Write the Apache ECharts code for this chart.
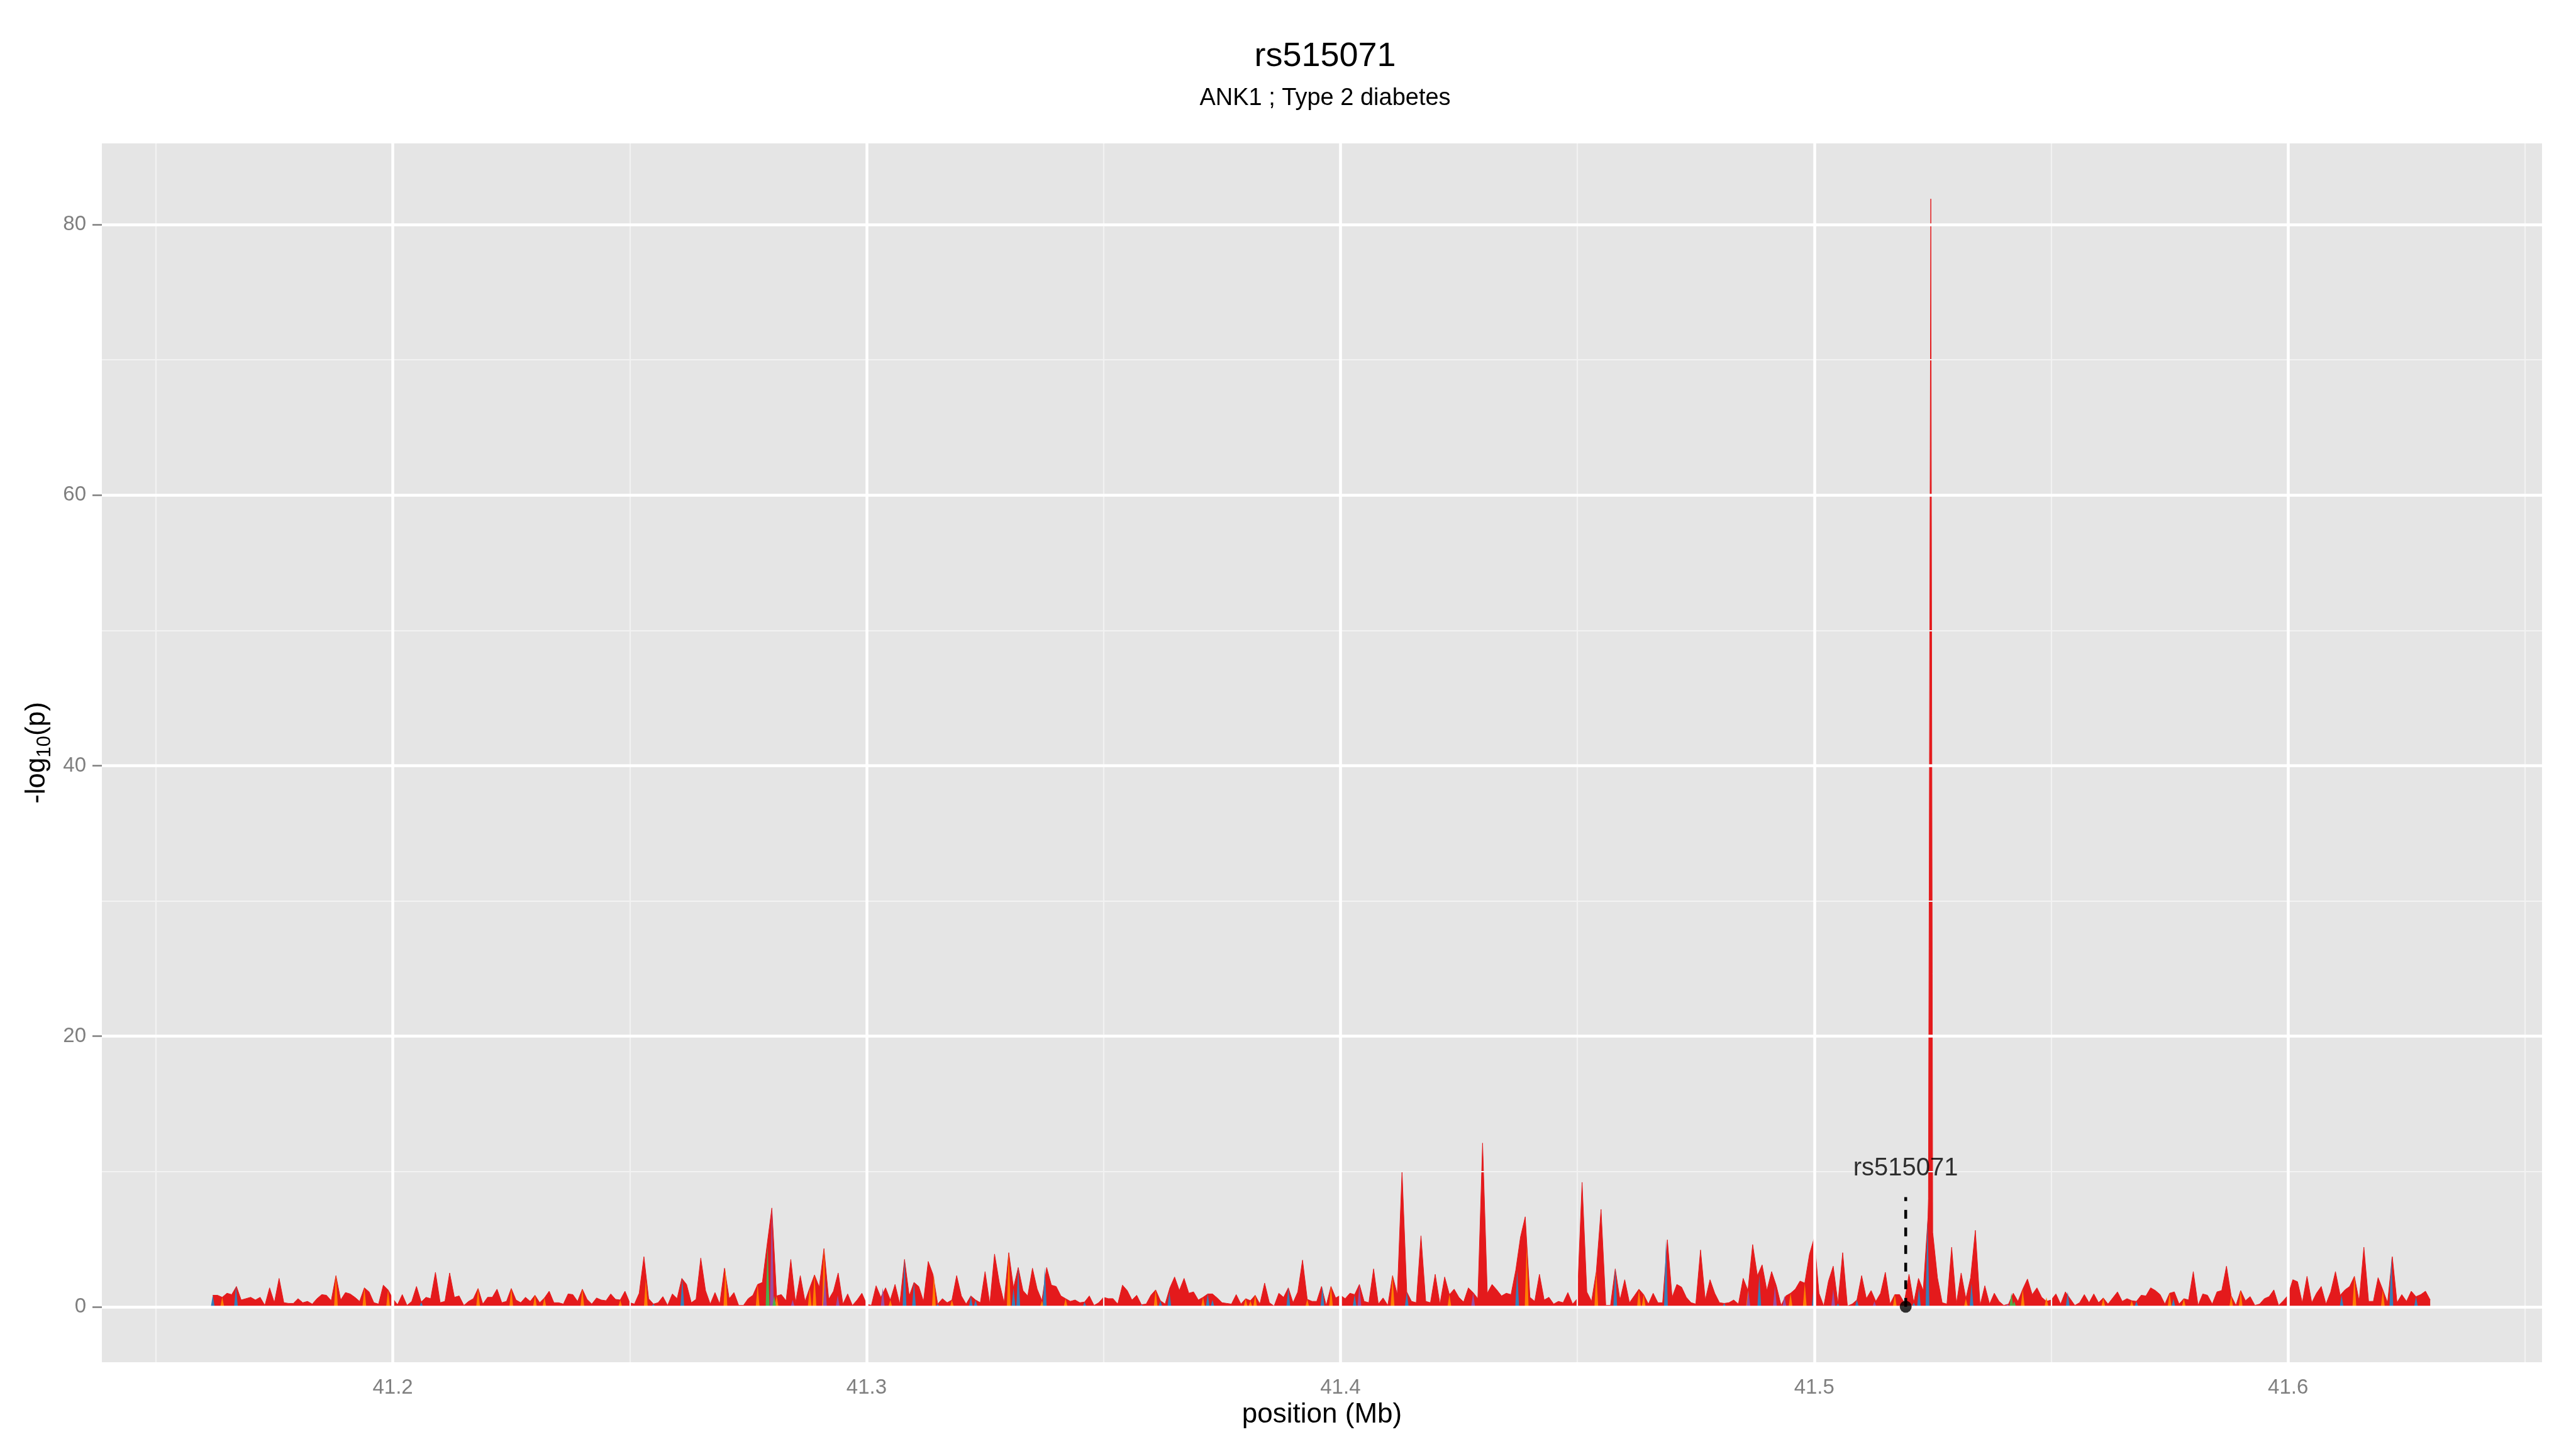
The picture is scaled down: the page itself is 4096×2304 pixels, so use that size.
<!DOCTYPE html>
<html><head><meta charset="utf-8">
<script src="https://cdn.jsdelivr.net/npm/echarts@6/dist/echarts.min.js"></script>
<style>html,body{margin:0;padding:0;background:#fff}#c{width:4096px;height:2304px}</style>
</head><body><div id="c"></div>
<script>
// ---------------- data ----------------
const titleText = 'rs515071';
const subtitleText = 'ANK1 ; Type 2 diabetes';
const xAxisTitle = 'position (Mb)';
const xTicks = [41.2, 41.3, 41.4, 41.5, 41.6];
const xMinorTicks = [41.15, 41.25, 41.35, 41.45, 41.55, 41.65];
const yTicks = [0, 20, 40, 60, 80];
const yMinorTicks = [10, 30, 50, 70];
const xRange = [41.1386, 41.6536];
const yRange = [-4.1, 86.0];

// -log10(p) sampled every 0.001 Mb starting at 41.162 Mb
const posStart = 41.162;
const posStep = 0.001;
const logp = [
  0.85,0.85,0.7,1.0,0.9,1.5,0.5,0.6,0.7,0.5,
  0.7,0.1,1.4,0.3,2.1,0.3,0.25,0.25,0.6,0.3,
  0.4,0.2,0.6,0.9,0.85,0.45,2.3,0.5,1.05,0.95,
  0.7,0.4,1.4,1.1,0.3,0.2,1.6,1.25,0.6,0.15,
  0.9,0.1,0.4,1.5,0.35,0.7,0.6,2.55,0.3,0.4,
  2.5,0.7,0.8,0.1,0.4,0.6,1.35,0.2,0.7,0.7,
  1.3,0.3,0.4,1.35,0.5,0.3,0.7,0.4,0.85,0.3,
  0.65,1.15,0.3,0.3,0.2,0.95,0.9,0.4,1.3,0.55,
  0.2,0.65,0.5,0.45,0.95,0.55,0.5,1.15,0.3,0.2,
  1.0,3.7,0.6,0.2,0.3,0.75,0.1,0.95,0.6,2.1,
  1.65,0.3,0.55,3.6,1.2,0.2,1.05,0.2,2.85,0.6,
  1.05,0.1,0.1,0.6,0.85,1.65,1.8,4.6,7.3,0.8,
  0.9,0.45,3.5,0.3,2.3,0.4,1.4,2.35,1.45,4.3,
  0.55,1.15,2.5,0.2,0.95,0.1,0.5,1.0,0.2,0.1,
  1.55,0.7,1.4,0.5,1.65,0.2,3.5,0.8,1.8,1.5,
  0.4,3.35,2.4,0.2,0.6,0.3,0.5,2.3,0.8,0.2,
  0.8,0.5,0.3,2.6,0.2,3.9,1.8,0.3,4.0,1.4,
  2.9,1.2,0.8,2.85,1.3,0.45,2.9,1.6,1.5,0.8,
  0.6,0.4,0.5,0.3,0.35,0.8,0.1,0.3,0.7,0.6,
  0.6,0.2,1.6,1.2,0.5,0.85,0.15,0.2,0.85,1.25,
  0.45,0.2,1.4,2.2,1.2,2.1,1.0,1.1,0.5,0.7,
  0.95,0.95,0.65,0.3,0.25,0.2,0.9,0.2,0.6,0.45,
  0.85,0.2,1.75,0.3,0.05,1.0,0.7,1.4,0.3,1.1,
  3.45,0.55,0.4,0.4,1.5,0.1,1.5,0.65,0.85,0.6,
  1.0,0.9,1.65,0.4,0.3,2.8,0.2,0.65,0.1,2.3,
  0.9,10.0,1.1,0.4,0.3,5.25,0.4,0.3,2.4,0.2,
  2.2,0.9,1.3,0.7,0.35,1.4,1.05,0.6,12.1,1.0,
  1.65,1.25,0.8,1.0,0.9,2.7,5.15,6.65,0.7,0.4,
  2.4,0.5,0.7,0.2,0.4,0.3,1.05,0.2,0.6,9.2,
  1.1,0.4,2.6,7.2,0.1,0.1,2.8,0.5,2.0,0.3,
  0.8,1.3,0.9,0.2,1.0,0.3,0.3,4.95,0.7,1.65,
  1.45,0.7,0.3,0.2,4.2,0.5,2.0,1.0,0.3,0.25,
  0.3,0.5,0.2,2.1,1.2,4.6,2.3,3.1,1.2,2.6,
  1.55,0.1,0.8,1.0,1.3,1.9,1.75,3.9,5.1,1.0,
  0.05,1.9,3.0,0.25,4.0,0.05,0.2,0.5,2.3,0.6,
  1.2,0.4,1.0,2.55,0.2,0.9,0.9,0.3,2.4,0.3,
  2.1,1.2,6.6,5.5,2.15,0.3,0.2,4.4,0.2,2.5,
  0.6,2.15,5.65,0.1,1.55,0.2,1.0,0.4,0.1,0.2,
  1.0,0.4,1.3,2.05,0.9,1.4,0.7,0.4,0.5,0.95,
  0.2,1.1,0.6,0.1,0.3,0.9,0.3,0.95,0.3,0.65,
  0.2,0.65,1.1,0.4,0.6,0.45,0.4,0.85,0.8,1.4,
  1.2,0.9,0.2,1.0,1.1,0.2,0.6,0.5,2.6,0.1,
  0.95,0.85,0.2,1.1,1.2,3.0,0.8,0.1,1.2,0.45,
  0.75,0.1,0.2,0.6,0.75,1.25,0.1,0.45,0.85,2.0,
  1.85,0.3,2.25,0.3,1.0,1.5,0.2,1.1,2.6,0.85,
  1.25,1.5,2.25,0.4,4.4,0.4,0.4,2.15,1.25,0.3,
  3.7,0.3,0.9,0.4,1.15,0.75,0.9,1.15,0.5
];
// extra SNPs resolving the main peak
const peakDetail = [[41.5241, 8.0], [41.5246, 81.9]];

// SNPs drawn in other colours: [position (Mb), -log10(p)]
const orangeSnps = [
  [41.164,0.7],[41.188,2.3],[41.194,1.4],[41.199,1.25],[41.218,1.35],[41.225,1.35],[41.230,0.85],
  [41.232,0.65],[41.240,1.3],[41.248,0.5],[41.2534,2.0],[41.2702,2.85],[41.277,1.65],[41.281,0.8],
  [41.288,1.4],[41.289,2.35],[41.291,4.3],[41.305,0.5],[41.3142,2.4],[41.318,0.5],[41.330,4.0],
  [41.337,0.45],[41.342,0.6],[41.361,1.25],[41.371,0.7],[41.380,0.6],[41.381,0.45],[41.382,0.85],
  [41.393,0.55],[41.398,1.5],[41.411,2.3],[41.423,0.9],[41.4393,4.55],[41.454,2.6],[41.463,1.3],
  [41.464,0.9],[41.486,1.2],[41.495,1.0],[41.498,1.75],[41.517,0.9],[41.532,0.6],[41.544,1.3],
  [41.549,0.7],[41.561,0.65],[41.567,0.45],[41.575,1.0],[41.578,0.6],[41.588,0.8],[41.590,1.2],
  [41.614,2.25],[41.620,1.25]
];
const blueSnps = [
  [41.162,0.85],[41.1669,1.5],[41.206,0.35],[41.255,0.2],[41.2611,2.1],[41.308,3.5],[41.310,1.8],
  [41.315,0.2],[41.322,0.8],[41.323,0.5],[41.331,1.4],[41.332,2.9],[41.3376,2.9],[41.346,0.35],
  [41.358,0.15],[41.362,0.45],[41.3639,1.1],[41.372,0.95],[41.373,0.5],[41.389,1.4],[41.3962,1.5],
  [41.403,0.9],[41.414,1.1],[41.4373,2.7],[41.458,2.8],[41.4687,4.95],[41.481,0.25],[41.4884,2.3],
  [41.4999,1.6],[41.505,0.25],[41.509,0.5],[41.521,0.3],[41.5221,1.4],[41.5239,6.4],[41.5332,1.75],
  [41.5535,1.1],[41.568,0.4],[41.5758,0.6],[41.6113,0.85],[41.6218,3.7],[41.627,0.75]
];
const purpleSnps = [
  [41.280,7.3],[41.2844,0.5],[41.2912,2.3],[41.2939,0.85],[41.3034,1.4],[41.404,1.65],[41.428,1.05],
  [41.4861,1.2],[41.4917,1.55],[41.4937,0.8],[41.504,1.3],[41.5127,0.4],[41.5408,0.2]
];
const greenSnps = [[41.2791,4.6],[41.2805,0.8],[41.5416,1.0],[41.5422,0.4]];

// annotated SNP
const annotSnp = 'rs515071';
const annotPos = 41.5193;
const annotLineTop = 8.1;
const annotLabelY = 10.2;

// ---------------- chart ----------------
const FONT = 'Liberation Sans, Arial, Helvetica, sans-serif';
const RED = '#E41A1C', BLUE = '#377EB8', GREEN = '#4DAF4A', PURPLE = '#984EA3', ORANGE = '#FF7F00';
const SPIKE_HALF_WIDTH = 0.0004;

const redData = logp.map((v, i) => [+(posStart + i * posStep).toFixed(4), v])
  .concat(peakDetail)
  .sort((a, b) => a[0] - b[0]);

function spikeSeries(name, data, color) {
  return {
    type: 'custom', name, data, z: 4, silent: true, clip: true,
    encode: { x: 0, y: 1 },
    renderItem(params, api) {
      const p = api.value(0), h = api.value(1);
      const a = api.coord([p - SPIKE_HALF_WIDTH, 0]);
      const b = api.coord([p, h]);
      const c = api.coord([p + SPIKE_HALF_WIDTH, 0]);
      return { type: 'polygon', shape: { points: [a, b, c] }, style: { fill: color, stroke: null } };
    }
  };
}

const gridLines = []
  .concat(xMinorTicks.map(v => ({ xAxis: v, lineStyle: { color: '#F2F2F2', width: 2.2, type: 'solid' } })))
  .concat(yMinorTicks.map(v => ({ yAxis: v, lineStyle: { color: '#F2F2F2', width: 2.2, type: 'solid' } })))
  .concat(xTicks.map(v => ({ xAxis: v, lineStyle: { color: '#FFFFFF', width: 4.5, type: 'solid' } })))
  .concat(yTicks.map(v => ({ yAxis: v, lineStyle: { color: '#FFFFFF', width: 4.5, type: 'solid' } })));

const chart = echarts.init(document.getElementById('c'), null, { renderer: 'canvas' });
chart.setOption({
  animation: false,
  backgroundColor: '#FFFFFF',
  title: [
    { text: titleText, left: 2102, top: 58, textAlign: 'center',
      textStyle: { fontSize: 54, fontWeight: 'normal', color: '#000', fontFamily: FONT } },
    { text: subtitleText, left: 2102, top: 133, textAlign: 'center',
      textStyle: { fontSize: 38, fontWeight: 'normal', color: '#000', fontFamily: FONT } }
  ],
  grid: { left: 162, right: 54, top: 228, bottom: 138, show: true, backgroundColor: '#E5E5E5', borderWidth: 0, containLabel: false },
  xAxis: {
    type: 'value', min: xRange[0], max: xRange[1],
    name: xAxisTitle, nameLocation: 'middle', nameGap: 61,
    nameTextStyle: { fontSize: 44, color: '#000', fontFamily: FONT },
    axisLine: { show: false }, splitLine: { show: false },
    axisTick: { show: true, length: 15, customValues: xTicks, lineStyle: { color: '#7F7F7F', width: 2.5 } },
    axisLabel: { customValues: xTicks, fontSize: 33, color: '#7F7F7F', margin: 24, fontFamily: FONT,
      formatter: v => v.toFixed(1) }
  },
  yAxis: {
    type: 'value', min: yRange[0], max: yRange[1],
    name: '{t|-log}{s|10}{t|(p)}', nameLocation: 'middle', nameGap: 75, nameRotate: 90,
    nameTextStyle: { rich: {
      t: { fontSize: 44, color: '#000', fontFamily: FONT, lineHeight: 56, verticalAlign: 'middle' },
      s: { fontSize: 31, color: '#000', fontFamily: FONT, lineHeight: 31, verticalAlign: 'bottom' }
    } },
    axisLine: { show: false }, splitLine: { show: false },
    axisTick: { show: true, length: 15, customValues: yTicks, lineStyle: { color: '#7F7F7F', width: 2.5 } },
    axisLabel: { customValues: yTicks, fontSize: 33, color: '#7F7F7F', margin: 25, fontFamily: FONT }
  },
  series: [
    { type: 'line', name: 'grid', data: [], silent: true, z: 1,
      markLine: { silent: true, symbol: ['none', 'none'], animation: false, label: { show: false }, data: gridLines } },
    { type: 'line', name: 'all', data: redData, z: 3, silent: true, symbol: 'none', showSymbol: false,
      lineStyle: { color: RED, width: 1 }, areaStyle: { color: RED, opacity: 1 }, clip: true },
    spikeSeries('orange', orangeSnps, ORANGE),
    spikeSeries('blue', blueSnps, BLUE),
    spikeSeries('purple', purpleSnps, PURPLE),
    spikeSeries('green', greenSnps, GREEN),
    { type: 'line', name: 'annotLine', data: [[annotPos, 0], [annotPos, annotLineTop]], z: 6, silent: true,
      symbol: 'none', lineStyle: { color: '#000', width: 4.5, type: [14, 14] } },
    { type: 'scatter', name: 'annotPoint', data: [[annotPos, 0]], z: 7, silent: true,
      symbol: 'circle', symbolSize: 19, itemStyle: { color: '#000' } },
    { type: 'scatter', name: 'annotLabel', data: [[annotPos, annotLabelY]], z: 7, silent: true,
      symbolSize: 0, label: { show: true, position: 'inside', formatter: annotSnp, fontSize: 40,
        color: '#000', fontFamily: FONT } }
  ]
});
</script>
</body></html>
